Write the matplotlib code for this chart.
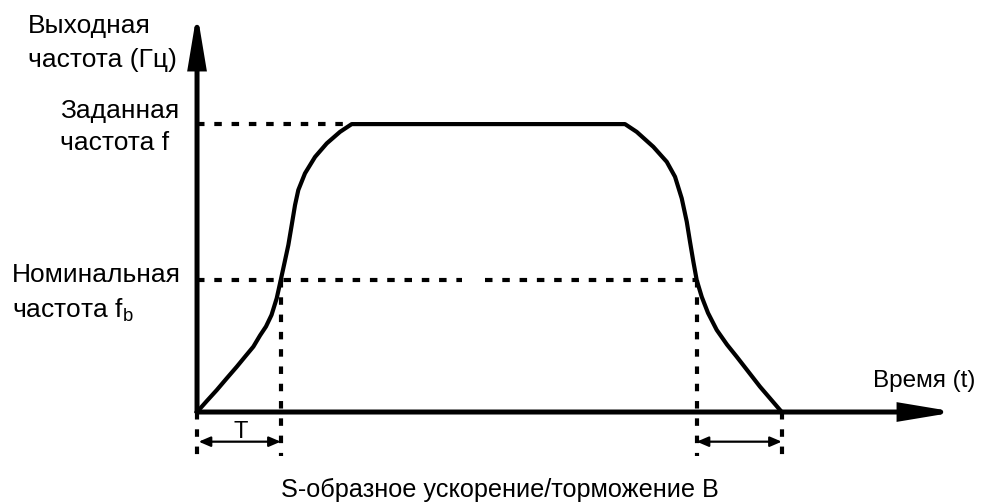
import matplotlib.pyplot as plt
from matplotlib.patches import FancyArrowPatch

plt.rcParams['font.family'] = ['Liberation Sans', 'DejaVu Sans']
plt.rcParams['mathtext.fontset'] = 'custom'
plt.rcParams['mathtext.rm'] = 'Liberation Sans'

# output frequency (% of set frequency) over time (in units of T)
t_curve = [0.0, 0.116, 0.235, 0.355, 0.474, 0.573, 0.673, 0.753, 0.824, 0.890, 0.952, 1.0,
           1.039, 1.091, 1.131, 1.171, 1.210, 1.290, 1.410, 1.550, 1.708, 1.848,
           5.113, 5.253, 5.452, 5.612, 5.711, 5.791, 5.851, 5.890, 5.930, 5.970,
           6.030, 6.105, 6.209, 6.332, 6.448, 6.587, 6.726, 6.986]
f_curve = [0.0, 3.8, 7.6, 11.7, 15.7, 19.2, 22.7, 26.6, 29.7, 33.7, 39.5, 45.8,
           51.0, 58.0, 64.9, 71.9, 77.1, 82.9, 88.6, 93.3, 97.3, 100.0,
           100.0, 97.3, 92.1, 86.9, 81.7, 74.2, 66.1, 59.1, 52.2, 45.8,
           40.0, 34.4, 28.5, 23.4, 19.2, 14.0, 8.8, 0.0]

f_set = 100.0
f_base = 45.8
t_up = 1.0        # accel reaches f_b
t_top = 1.848     # accel reaches f
t_down = 5.970    # decel passes f_b
t_stop = 6.986

ylabel_lines = ['Выходная', 'частота (Гц)']
fset_lines = ['Заданная', 'частота f']
fbase_lines = ['Номинальная', 'частота f$_\\mathrm{b}$']
xlabel = 'Время (t)'
title = 'S-образное ускорение/торможение В'

fig = plt.figure(figsize=(9.9, 5.03), dpi=100)
ax = fig.add_axes([0, 0, 1, 1])
ax.set_xlim(-2.354, 9.474)
ax.set_ylim(-31.6, 143.1)
ax.axis('off')

# axes with arrows
for tip in [(9.067, 0), (0, 138.9)]:
    ax.add_patch(FancyArrowPatch((0, 0), tip, arrowstyle='-|>,head_length=3.0,head_width=0.5',
                                 mutation_scale=10, lw=3.6, color='black', shrinkA=0, shrinkB=0,
                                 joinstyle='miter', zorder=3))

# the S-curve
ax.plot(t_curve, f_curve, color='black', lw=3.0, solid_joinstyle='round', zorder=4)

dash = dict(color='black', lw=3.0, linestyle=(0, (1.8, 2.35)), zorder=2)
ax.plot([0, t_top], [f_set, f_set], **dash)
ax.plot([0, 3.165], [f_base, f_base], **dash)
ax.plot([3.44, t_down], [f_base, f_base], **dash)
low = -15.3
ax.plot([0, 0], [0, low], **dash)
ax.plot([t_up, t_up], [f_base, low], **dash)
ax.plot([t_down, t_down], [f_base, low], **dash)
ax.plot([t_stop, t_stop], [0, low], **dash)

# double arrows for T
for a, b in [(0.02, t_up), (t_down, t_stop)]:
    ax.add_patch(FancyArrowPatch((a, -10.3), (b, -10.3), arrowstyle='<|-|>,head_length=0.7,head_width=0.3',
                                 mutation_scale=10, lw=1.6, color='black', shrinkA=0, shrinkB=0))
ax.text(0.52, -9.0, 'T', fontsize=17, ha='center', va='baseline')

fs = 19
ax.text(-2.019, 131.6, ylabel_lines[0], fontsize=fs, va='baseline')
ax.text(-2.019, 119.8, ylabel_lines[1], fontsize=fs, va='baseline')
ax.text(-1.637, 102.1, fset_lines[0], fontsize=fs, va='baseline')
ax.text(-1.637, 91.0, fset_lines[1], fontsize=fs, va='baseline')
ax.text(-2.210, 45.1, fbase_lines[0], fontsize=fs, va='baseline')
ax.text(-2.210, 33.0, fbase_lines[1], fontsize=fs, va='baseline')
ax.text(8.077, 8.7, xlabel, fontsize=17.5, va='baseline')
ax.text(3.62, -29.5, title, fontsize=18.2, ha='center', va='baseline')

fig.savefig('out.png', dpi=100, facecolor='white')
